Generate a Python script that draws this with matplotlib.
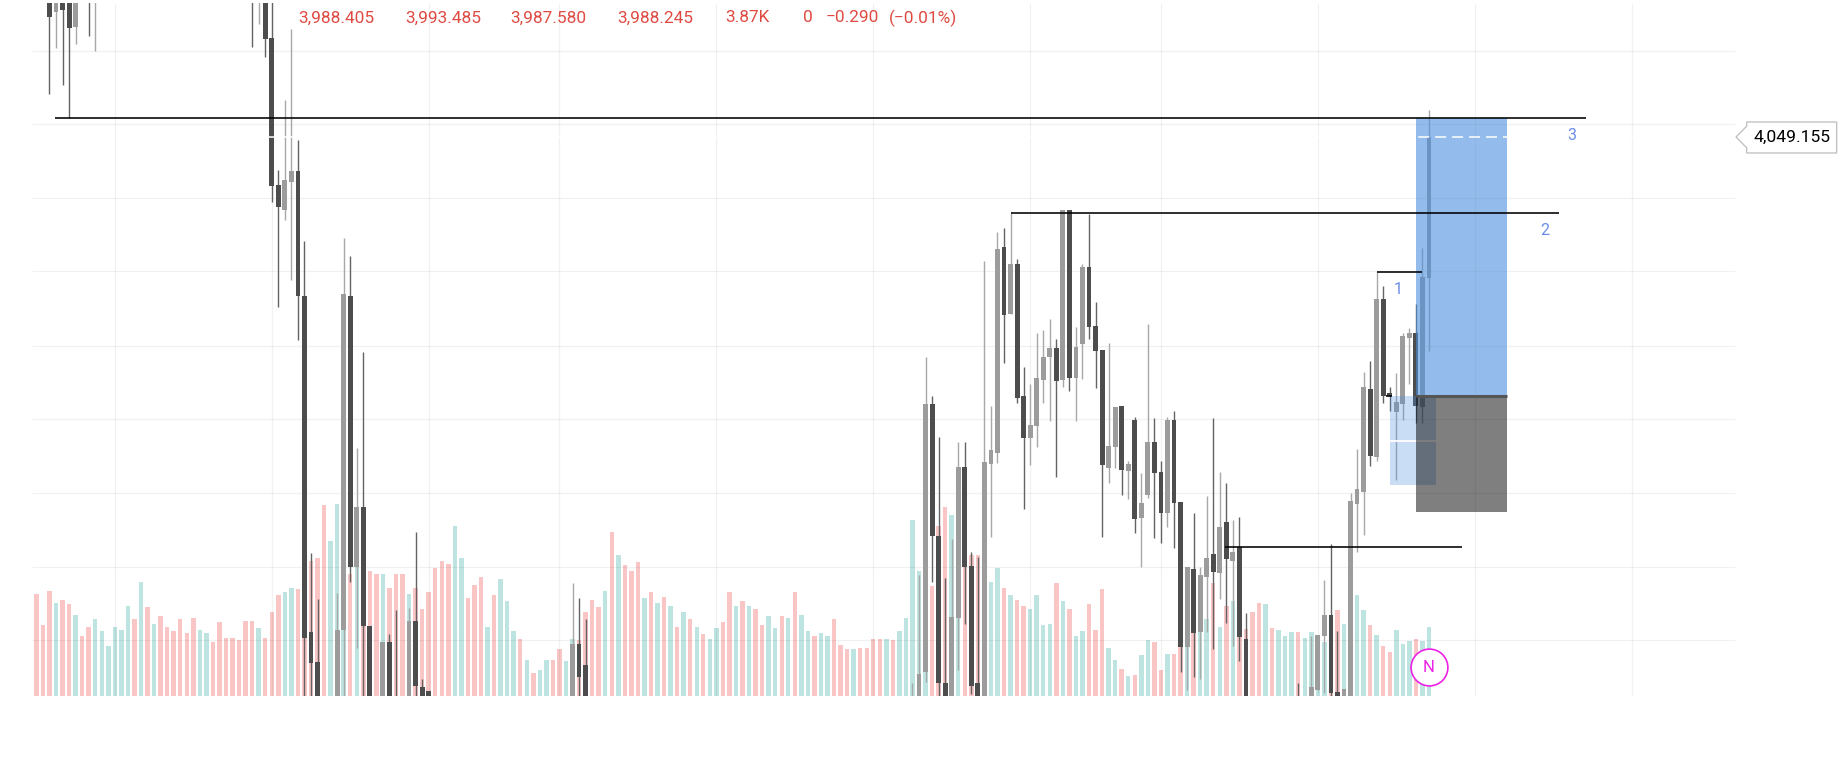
#!/usr/bin/env python3
"""Candlestick chart with volume bars and a long position tool"""

import matplotlib
matplotlib.use('Agg')
import matplotlib.pyplot as plt
from matplotlib.patches import Polygon, Rectangle
from matplotlib.transforms import IdentityTransform

# Volumes in thousands, one per bar
volumes = [
    5.74, 3.96, 5.89, 5.22, 5.39, 5.14, 4.54, 3.37, 3.87, 4.30,
    3.63, 2.79, 3.87, 3.70, 5.05, 4.30, 6.40, 4.97, 4.04, 4.47,
    3.87, 3.63, 4.30, 3.53, 4.38, 3.70, 3.53, 3.03, 4.13, 3.27,
    3.27, 3.12, 4.21, 4.21, 3.80, 3.27, 4.71, 5.65, 5.82, 6.08,
    5.98, 7.05, 7.57, 7.74, 10.70, 8.68, 10.77, 10.77, 6.86, 8.56,
    7.88, 6.99, 6.83, 6.83, 6.08, 6.83, 6.83, 5.74, 6.08, 4.90,
    5.82, 7.16, 7.59, 7.41, 9.52, 7.76, 5.48, 6.23, 6.66, 3.87,
    5.65, 6.58, 5.31, 3.63, 3.20, 2.02, 1.27, 1.44, 2.02, 2.02,
    2.62, 1.94, 3.20, 3.12, 4.71, 5.39, 4.97, 5.89, 9.18, 7.91,
    7.33, 6.99, 7.50, 5.48, 5.82, 5.22, 5.57, 5.05, 3.87, 4.71,
    4.30, 3.87, 3.46, 3.20, 3.80, 4.13, 5.82, 5.05, 5.31, 5.05,
    4.90, 3.96, 4.47, 3.80, 4.47, 4.38, 5.82, 4.54, 3.63, 3.37,
    3.53, 3.37, 4.30, 2.86, 2.62, 2.62, 2.69, 2.69, 3.20, 3.20,
    3.20, 3.12, 3.63, 4.38, 9.85, 6.99, 7.89, 6.15, 9.52, 10.60,
    10.17, 8.73, 7.24, 7.89, 7.89, 8.50, 6.40, 7.16, 6.08, 5.65,
    5.40, 5.05, 4.90, 5.65, 3.96, 4.04, 6.32, 5.31, 4.90, 3.37,
    3.63, 5.14, 3.70, 5.98, 2.69, 2.02, 1.51, 1.10, 1.18, 2.28,
    3.12, 3.03, 1.44, 2.36, 2.36, 2.75, 2.75, 4.36, 3.59, 4.30,
    6.32, 3.87, 5.05, 5.31, 4.00, 3.78, 4.71, 5.22, 5.14, 3.80,
    3.70, 3.37, 3.61, 3.61, 3.27, 3.61, 3.40, 3.03, 3.40, 4.81,
    4.04, 4.00, 5.65, 4.81, 3.96, 3.44, 2.79, 2.45, 3.70, 2.94,
    3.10, 3.20, 3.10, 3.87,
]
volume_sides = (
    "rrrgrrgrrg" "gggggrgrgr" "rrrrrggrrr" "rrrrgrrrgg" "rrrrrgggrg"
    "rrrgrrrgrr" "rrrrggrrrg" "rgggrgrggr" "rggrrrrgrg" "rrrgrgrgrg"
    "rgrggrrgrg" "rrggrgrggr" "ggrrrgrrrr" "grgggggrrr" "ggrrrgggrg"
    "rrggggrgrg" "grrrggrgrg" "grrgrrgrgg" "rgrgrrrrgr" "gggrggggrr"
    "ggggrgrrgg" "grgg"
)

# Candles, bar number and OHLC
candle_bars = [
    2, 3, 4, 5, 6, 8, 9, 33, 34, 35, 36, 37, 38, 39, 40, 41, 42, 43, 46, 47,
    48, 49, 50, 51, 53, 54, 55, 57, 58, 59, 60, 82, 83, 84, 134, 135, 136, 137,
    138, 139, 140, 141, 142, 143, 144, 145, 146, 147, 148, 149, 150, 151, 152,
    153, 154, 155, 156, 157, 158, 159, 160, 161, 162, 163, 164, 165, 166, 167,
    168, 169, 170, 171, 172, 173, 174, 175, 176, 177, 178, 179, 180, 181, 182,
    183, 184, 185, 193, 195, 196, 197, 198, 199, 200, 201, 202, 203, 204, 205,
    206, 207, 208, 209, 210, 211, 212, 213,
]
candle_open = [
    4088.4, 4080.4, 4088.4, 4084.65, 4076.65, 4090.9, 4085.9, 4090.9, 4085.9, 4085.9,
    4073.9, 4037.15, 4030.9, 4037.9, 4040.65, 4009.4, 3925.4, 3917.9, 3908.4, 3925.9,
    4009.4, 3941.65, 3956.65, 3926.9, 3908.4, 3922.9, 3908.4, 3908.4, 3928.15, 3911.65,
    3910.65, 3908.4, 3922.4, 3917.15, 3907.4, 3908.4, 3915.4, 3982.4,
    3949.4, 3912.65, 3908.4, 3928.9, 3966.65, 3941.9, 3912.65, 3908.4, 3967.4, 3970.15,
    4021.65, 4004.9, 4017.4, 3984.4, 3973.9,
    3976.9, 3988.4, 3994.15, 3996.4, 3988.4, 4030.9, 3988.9, 3997.4, 4016.65, 4001.9,
    3995.9, 3966.4, 3971.65, 3981.9, 3965.65,
    3978.4, 3953.9, 3959.65, 3972.9, 3965.4, 3955.15, 3978.4, 3957.9, 3921.65, 3941.15,
    3925.4, 3939.15, 3944.9, 3940.15, 3952.9,
    3943.15, 3946.65, 3923.65, 3908.4, 3908.4, 3910.9, 3924.4, 3929.65, 3910.4, 3908.4,
    3908.4, 3957.4, 3960.4, 3986.15, 3969.15,
    4008.65, 3985.15, 3980.4, 3982.4, 3998.9, 4000.15, 3981.65, 4013.9,
]
candle_high = [
    4090.9, 4090.9, 4090.9, 4088.4, 4088.4, 4093.4, 4093.4, 4093.4, 4093.4, 4088.4,
    4085.9, 4040.9, 4058.4, 4076.15, 4048.4, 4023.15, 3945.15, 3933.65, 3935.15, 4023.9,
    4019.4, 3971.4, 3995.4, 3926.9, 3922.9, 3924.9, 3930.9, 3931.4, 3950.4, 3913.65,
    3910.65, 3937.65, 3933.9, 3928.65, 3912.65, 3939.65, 3994.15, 3984.4,
    3974.15, 3938.9, 3948.65, 3972.9, 3972.9, 3945.4, 3944.15, 4018.15, 3981.9, 4025.4,
    4026.4, 4030.15, 4018.65, 3991.65, 3987.4,
    4000.15, 4000.9, 4003.65, 3998.65, 4030.9, 4030.9, 4001.65, 4017.4, 4029.9, 4007.9,
    3995.9, 3997.65, 3981.65, 3981.9, 3968.15,
    3979.15, 3965.15, 4002.4, 3978.9, 3968.15, 3979.15, 3980.65, 3957.9, 3941.65, 3955.15,
    3941.65, 3959.4, 3978.9, 3965.4, 3962.65,
    3953.4, 3954.15, 3930.15, 3912.65, 3924.4, 3924.65, 3938.4, 3947.4, 3925.65, 3911.15,
    3960.15, 3971.15, 3990.4, 3993.15, 4015.4,
    4011.9, 3986.65, 3990.15, 4000.15, 4001.4, 4007.4, 4021.4, 4055.9,
]
candle_low = [
    4059.9, 4071.4, 4062.15, 4053.9, 4072.4, 4074.4, 4070.65, 4071.65, 4077.4, 4069.15,
    4032.9, 4006.65, 4028.4, 4013.4, 3998.4, 3909.4, 3909.4, 3908.4, 3908.4, 3908.4,
    3937.9, 3921.4, 3908.4, 3908.4, 3908.4, 3908.4, 3907.4, 3908.4, 3908.4, 3908.4,
    3908.4, 3908.4, 3908.4, 3908.4, 3907.4, 3908.4, 3912.9, 3937.9,
    3908.4, 3908.4, 3908.4, 3915.9, 3927.4, 3909.9, 3908.4, 3908.4, 3949.15, 3967.65,
    3992.65, 4004.9, 3982.65, 3956.15, 3967.15,
    3971.65, 3982.65, 3978.15, 3964.15, 3986.65, 3985.65, 3978.15, 3988.65, 3998.65, 3986.4,
    3949.15, 3962.65, 3966.4, 3959.65, 3958.65,
    3950.15, 3941.65, 3958.9, 3948.9, 3947.65, 3951.65, 3946.4, 3915.4, 3910.9, 3914.15,
    3913.65, 3925.4, 3921.15, 3933.65, 3927.65,
    3921.9, 3918.15, 3908.4, 3907.4, 3908.4, 3910.9, 3910.15, 3908.4, 3908.4, 3908.4,
    3908.4, 3945.4, 3949.65, 3966.9, 3968.15,
    3982.65, 3980.65, 3963.4, 3978.4, 3987.4, 3977.65, 3977.65, 3995.65,
]
candle_close = [
    4079.15, 4088.4, 4080.9, 4076.4, 4084.65, 4085.9, 4090.9, 4085.9, 4090.9, 4073.65,
    4036.9, 4031.65, 4038.4, 4040.65, 4009.4, 3923.9, 3917.65, 3908.4, 3925.9, 4009.9,
    3941.65, 3956.65, 3926.9, 3908.4, 3922.9, 3908.4, 3907.4, 3928.15, 3911.9, 3908.4,
    3908.4, 3922.4, 3914.15, 3908.4, 3908.4, 3914.9, 3982.4, 3949.4,
    3912.65, 3908.4, 3929.15, 3966.65, 3941.65, 3911.9, 3908.4, 3967.9, 3970.9, 4021.15,
    4004.65, 4017.4, 3983.9, 3973.9, 3977.15,
    3988.9, 3994.15, 3996.4, 3988.15, 4030.9, 3988.9, 3996.65, 4016.65, 4001.65, 3995.65,
    3967.15, 3971.9, 3981.65, 3965.9, 3967.4,
    3953.65, 3957.65, 3972.9, 3965.15, 3955.15, 3978.4, 3957.65, 3921.65, 3941.65, 3925.15,
    3939.65, 3943.9, 3940.4, 3951.65, 3943.65,
    3945.4, 3924.15, 3908.4, 3907.4, 3911.65, 3924.65, 3929.65, 3910.15, 3908.4, 3911.15,
    3958.15, 3961.15, 3986.65, 3969.4, 4008.65,
    3984.4, 3984.4, 3982.9, 3999.4, 4000.15, 3981.9, 4014.15, 4049.155,
]

# Grid positions
grid_prices = [4070.7, 4052.4, 4034.0, 4015.65, 3996.9, 3978.6, 3960.1, 3941.7, 3923.3]
grid_bars = [12, 36, 60, 80, 104, 128, 152, 172, 196, 220, 244]

# Drawn levels: price, first bar, last bar
level_prices = [4053.9, 4030.2, 4015.3, 3946.7, 3984.4]
level_starts = [2.8, 149, 205, 181.8, 206.5]
level_ends = [237, 232.9, 212, 218, 207.4]
level_names = ["3", "2", "1"]
level_name_bars = [234.8, 230.7, 208.3]
level_name_prices = [4049.6, 4025.8, 4011.0]

# Position tool
entry_price = 3984.4
target_price = 4053.9
stop_price = 3955.4
position_first, position_last = 211, 225
order_first, order_last = 207, 214
order_low = 3962.15
order_mid = 3973.15

last_price = 4049.155
readout_texts = ["3,988.405", "3,993.485", "3,987.580", "3,988.245",
                 "3.87K", "0", "\u22120.290", "(\u22120.01%)"]
readout_x = [298, 405, 510, 617, 725, 803, 826, 889]

W, H = 1843, 784
PLOT_TOP, PLOT_BOTTOM = 3, 696
BAR_X0, BAR_STEP = 36.4, 6.538  # pixel of bar 0 and pixels per bar

UP_COLOR = '#9c9c9c'
DOWN_COLOR = '#4d4d4d'
UP_WICK = '#a8a8a8'
DOWN_WICK = '#636363'
GRID_COLOR = (0, 0, 0, 0.055)
BLUE = '#4c8fde'
LABEL_BLUE = '#6b8de8'
READOUT_RED = '#df4a42'
MAGENTA = '#ee22e6'

plt.rcParams['font.family'] = ['Roboto', 'DejaVu Sans']

fig = plt.figure(figsize=(W / 100, H / 100), dpi=100, facecolor='white')
axes_rect = [0, (H - PLOT_BOTTOM) / H, 1, (PLOT_BOTTOM - PLOT_TOP) / H]

# Volume sits behind the price axes
vol_ax = fig.add_axes(axes_rect)
ax = fig.add_axes(axes_rect)
ax.patch.set_alpha(0)

xlim = (-BAR_X0 / BAR_STEP, (W - BAR_X0) / BAR_STEP)
for a in (vol_ax, ax):
    a.set_xlim(*xlim)
    a.axis('off')
ax.set_ylim(3909.4, 4082.65)
vol_ax.set_ylim(0, 38.88)

bars = list(range(len(volumes)))
vol_colors = [('#ef5350' if s == 'r' else '#26a69a') for s in volume_sides]
vol_alpha = [0.33 if s == 'r' else 0.3 for s in volume_sides]
for b, v, c, al in zip(bars, volumes, vol_colors, vol_alpha):
    vol_ax.bar(b, v, width=0.68, color=c, alpha=al, linewidth=0)

# Grid
ax.hlines(grid_prices, -0.7, 259.8, color=GRID_COLOR, linewidth=0.9, zorder=0)
ax.vlines(grid_bars, *ax.get_ylim(), color=GRID_COLOR, linewidth=0.9, zorder=0)

# Candles
for b, o, h, l, c in zip(candle_bars, candle_open, candle_high, candle_low, candle_close):
    up = c >= o
    ax.vlines(b, l, h, color=UP_WICK if up else DOWN_WICK, linewidth=1.0, zorder=2)
    ax.bar(b, abs(c - o), bottom=min(o, c), width=0.74,
           color=UP_COLOR if up else DOWN_COLOR, linewidth=0, zorder=2.1)

# Position tool boxes
ax.add_patch(Rectangle((order_first, order_low), order_last - order_first,
                       entry_price - order_low, facecolor=BLUE, alpha=0.3,
                       linewidth=0, zorder=3))
ax.plot([order_first, order_last], [order_mid, order_mid],
        color='white', linewidth=1.3, solid_capstyle='butt', zorder=3.05)
ax.add_patch(Rectangle((position_first, entry_price), position_last - position_first,
                       target_price - entry_price, facecolor=BLUE, alpha=0.6,
                       linewidth=0, zorder=3.1))
ax.add_patch(Rectangle((position_first, stop_price), position_last - position_first,
                       entry_price - stop_price, facecolor='black', alpha=0.5,
                       linewidth=0, zorder=3.1))
ax.plot([position_first, position_last], [entry_price, entry_price],
        color='#555555', linewidth=2.2, solid_capstyle='butt', zorder=3.5)

# Levels and their numbers
for p, x0, x1 in zip(level_prices, level_starts, level_ends):
    ax.plot([x0, x1], [p, p], color='black', linewidth=1.15,
            solid_capstyle='butt', zorder=4)
for name, b, p in zip(level_names, level_name_bars, level_name_prices):
    ax.text(b, p, name, color=LABEL_BLUE, fontsize=11.5, ha='center', va='center', zorder=5)

# Last price line, white so it only shows over candles and boxes
ax.plot([35, 260], [last_price, last_price], color='white', linewidth=1.1,
        dashes=(7.2, 3.9), zorder=4.5)

# Marker on the last bar
ax.plot(bars[-1], 3916.7, marker='o', markersize=26.5, markerfacecolor='white',
        markeredgecolor=MAGENTA, markeredgewidth=1.2, zorder=5)
ax.text(bars[-1], 3916.5, "N", color=MAGENTA, fontsize=12, ha='center', va='center', zorder=6)

# OHLC readout
for txt, x in zip(readout_texts, readout_x):
    fig.text(x / W, 1 - 18 / H, txt, color=READOUT_RED, fontsize=12.4,
             ha='left', va='center')

# Price tag on the right edge
_, tag_y = ax.transData.transform((0, last_price))
tag_points = [(1736, tag_y), (1746.7, tag_y + 10.8), (1746.7, tag_y + 15),
              (1836.7, tag_y + 15), (1836.7, tag_y - 16), (1746.7, tag_y - 16),
              (1746.7, tag_y - 10.8)]
ax.add_patch(Polygon(tag_points, closed=True, facecolor='white', edgecolor='#bdbdbd',
                     linewidth=0.9, transform=IdentityTransform(), clip_on=False, zorder=6))
fig.text(1791.7 / W, tag_y / H, f"{last_price:,.3f}", color='black', fontsize=12.6,
         ha='center', va='center', zorder=7)

fig.savefig('out.png', dpi=100, facecolor='white')
